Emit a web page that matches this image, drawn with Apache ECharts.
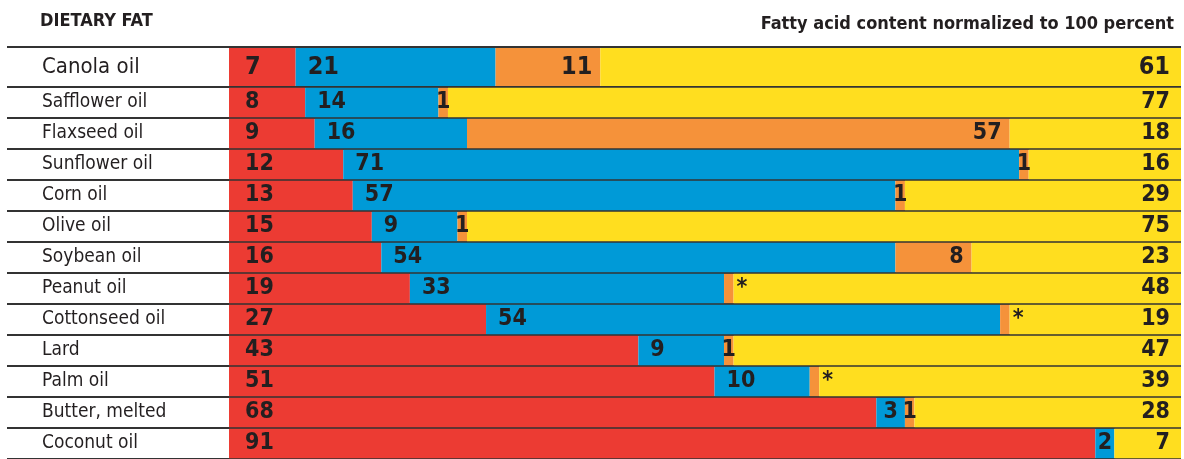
<!DOCTYPE html>
<html>
<head>
<meta charset="utf-8">
<script src="https://cdn.jsdelivr.net/npm/echarts@6/dist/echarts.min.js"></script>
<style>
  html, body { margin: 0; padding: 0; background: #fff; }
  #chart { width: 1184px; height: 459px; }
</style>
</head>
<body>
<div id="chart"></div>
<script>
// data (percent of fatty acids)
var oils = ["Canola oil", "Safflower oil", "Flaxseed oil", "Sunflower oil", "Corn oil", "Olive oil",
  "Soybean oil", "Peanut oil", "Cottonseed oil", "Lard", "Palm oil", "Butter, melted", "Coconut oil"];
var saturated = [7, 8, 9, 12, 13, 15, 16, 19, 27, 43, 51, 68, 91];
var linoleic = [21, 14, 16, 71, 57, 9, 54, 33, 54, 9, 10, 3, 2];
// "*" = trace, drawn as a thin sliver
var alphaLinolenic = [11, 1, 57, 1, 1, 1, 8, 1, 1, 1, 1, 1, 0];
var alphaLabels = ["11", "1", "57", "1", "1", "1", "8", "*", "*", "1", "*", "1", ""];
var monounsaturated = [61, 77, 18, 16, 29, 75, 23, 48, 19, 47, 39, 28, 7];

var colors = ["#ec3b33", "#009ad7", "#f5923a", "#ffde1f"];
var FONT = "'DejaVu Sans Condensed', 'Liberation Sans Narrow', sans-serif";
var INK = "#231f20";

var chart = echarts.init(document.getElementById("chart"));

function makeSeries(gridIdx, from, to, fontSize, barWidth) {
  var idx = [];
  for (var i = from; i < to; i++) idx.push(i);
  var base = {
    type: "bar",
    stack: "s" + gridIdx,
    xAxisIndex: gridIdx,
    yAxisIndex: gridIdx,
    barWidth: barWidth,
    clip: true,
    silent: true,
    animation: false
  };
  function lbl(pos, dist) {
    return { show: true, position: pos, distance: dist, color: INK, fontFamily: FONT,
      fontWeight: "bold", fontSize: fontSize };
  }
  var red = Object.assign({}, base, {
    name: "Saturated",
    itemStyle: { color: colors[0] },
    label: lbl("insideLeft", 16),
    data: idx.map(function (i) { return saturated[i]; })
  });
  var blue = Object.assign({}, base, {
    name: "Linoleic",
    itemStyle: { color: colors[1] },
    data: idx.map(function (i) {
      var v = linoleic[i];
      return { value: v, label: v <= 3 ? lbl("inside", 0) : lbl("insideLeft", 12) };
    })
  });
  var orange = Object.assign({}, base, {
    name: "Alpha-linolenic",
    itemStyle: { color: colors[2] },
    data: idx.map(function (i) {
      var v = alphaLinolenic[i];
      var t = alphaLabels[i];
      var l;
      if (t === "*") l = lbl("right", 3);
      else if (v <= 1) l = lbl("inside", 0);
      else l = lbl("insideRight", 8);
      l.formatter = t;
      return { value: v, label: l };
    })
  });
  var yellow = Object.assign({}, base, {
    name: "Monounsaturated",
    itemStyle: { color: colors[3] },
    label: lbl("insideRight", 11),
    data: idx.map(function (i) { return monounsaturated[i]; })
  });
  return [red, blue, orange, yellow];
}

function yAx(gridIdx, cats, fontSize) {
  return {
    type: "category",
    gridIndex: gridIdx,
    inverse: true,
    data: cats,
    axisLine: { show: false },
    axisTick: { show: false },
    axisLabel: { inside: true, margin: 35, color: INK, fontFamily: FONT, fontSize: fontSize },
    splitLine: { show: true, lineStyle: { color: "#333333", width: 2 } }
  };
}

function xAx(gridIdx) {
  // 0 lands at x=229, 100 at x=1181
  return { type: "value", gridIndex: gridIdx, min: -23.32, max: 100, show: false };
}

chart.setOption({
  backgroundColor: "#fff",
  title: [
    { text: "DIETARY FAT", left: 40, top: 12, padding: 0,
      textStyle: { color: INK, fontFamily: FONT, fontWeight: "bold", fontSize: 18 } },
    { text: "Fatty acid content normalized to 100 percent", right: 10, top: 15, padding: 0,
      textStyle: { color: INK, fontFamily: FONT, fontWeight: "bold", fontSize: 18 } }
  ],
  grid: [
    { left: 7, right: 3, top: 47, height: 40 },
    { left: 7, right: 3, top: 87, height: 376 }
  ],
  xAxis: [xAx(0), xAx(1)],
  yAxis: [yAx(0, oils.slice(0, 1), 22), yAx(1, oils.slice(1), 19)],
  series: makeSeries(0, 0, 1, 25, 38).concat(makeSeries(1, 1, oils.length, 23, 29.3))
});
</script>
</body>
</html>
